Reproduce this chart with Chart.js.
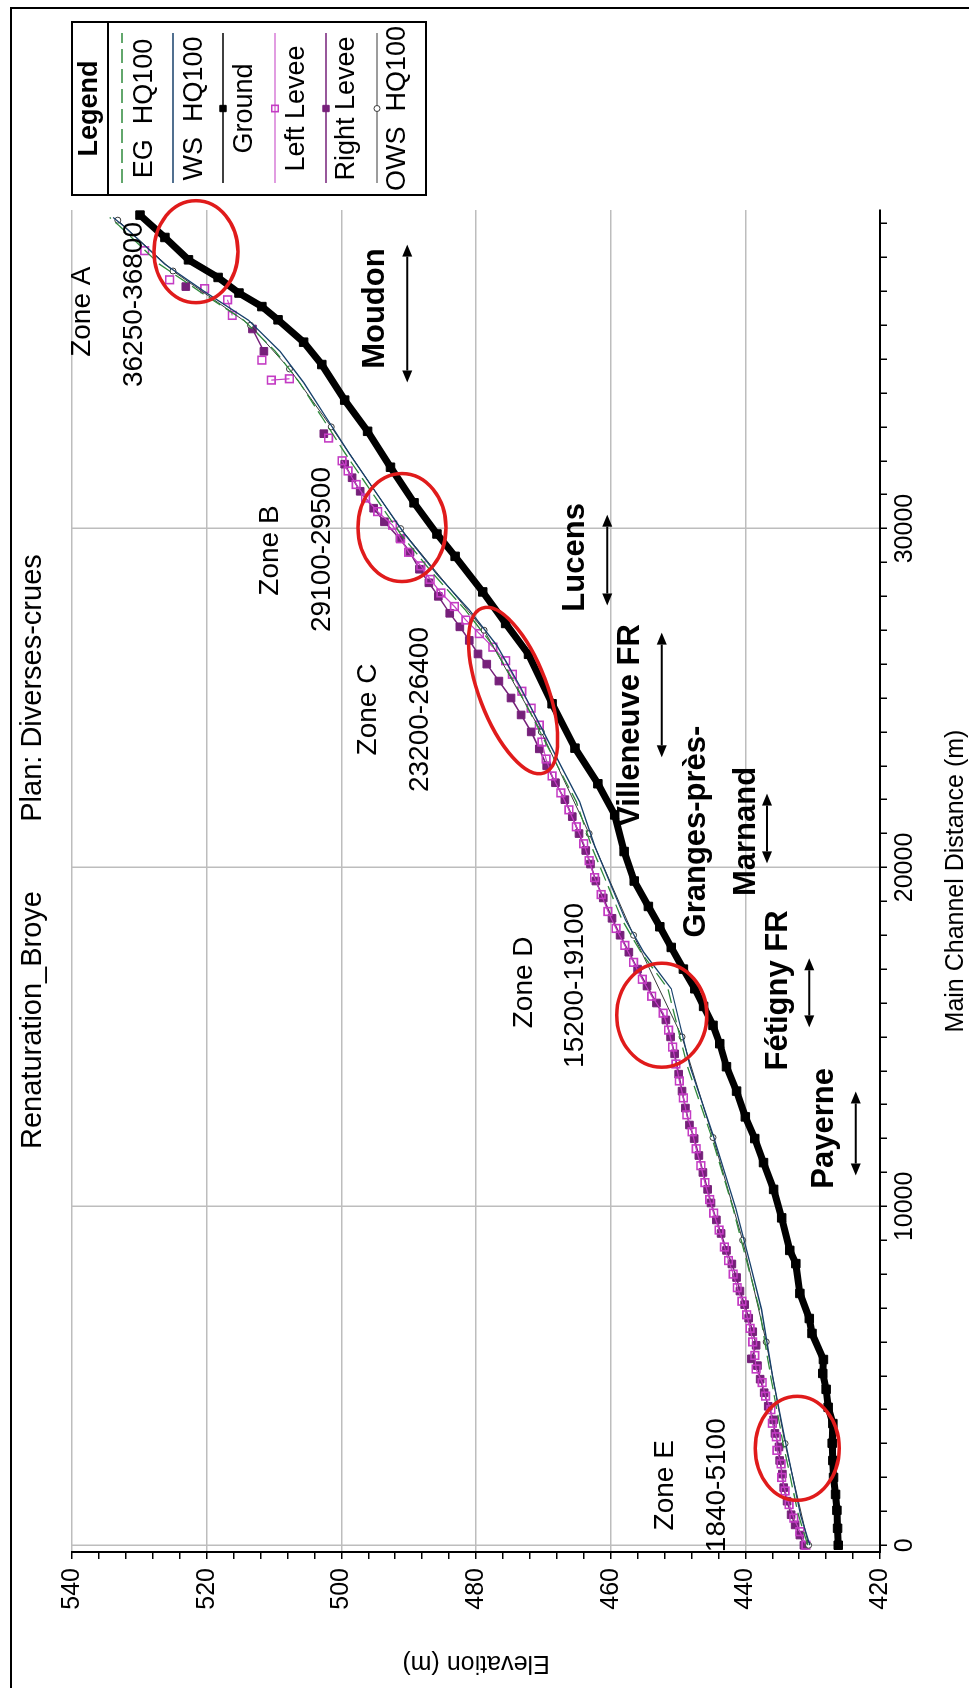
<!DOCTYPE html>
<html>
<head>
<meta charset="utf-8">
<title>Renaturation_Broye - profil en long</title>
<script src="https://cdn.jsdelivr.net/npm/chart.js@4.4.1/dist/chart.umd.min.js"></script>
<style>
  html, body { margin: 0; padding: 0; background: #fff; overflow: hidden; }
  /* the plot is built lying down (distance along x) and then turned a quarter turn, like the scan */
  #wrap {
    position: absolute; left: 0; top: 0; width: 1688px; height: 969px;
    transform-origin: 0 0; transform: translate(0, 1688px) rotate(-90deg);
  }
</style>
</head>
<body>
<div id="wrap"><canvas id="profileChart" width="1688" height="969"></canvas></div>
<script>
// ---- data (distance in m, elevation in m) ----
const titleLeft = 'Renaturation_Broye';
const titleRight = 'Plan: Diverses-crues';
const distLabels = [0, 10000, 20000, 30000];
const elevLabels = [420, 440, 460, 480, 500, 520, 540];

const groundDist = [0, 500, 1030, 1500, 2000, 2500, 3010, 3590, 4070, 4600,
  5070, 5480, 6250, 6690, 7430, 8310, 8700, 9660, 10500, 11290,
  12000, 12640, 13400, 14120, 14800, 15340, 15900, 16420, 17000, 17640,
  18250, 18850, 19600, 20470, 21550, 22470, 23520, 24830, 26290, 27200,
  28130, 29180, 29840, 30760, 31810, 32870, 33790, 34840, 35500, 36160,
  36550, 36950, 37410, 37930, 38590, 39250];
const groundElev = [426.2, 426.3, 426.4, 426.6, 426.9, 427.0, 427.1, 427.0, 427.7, 428.0,
  428.5, 428.4, 430.1, 430.5, 431.9, 432.5, 433.4, 434.6, 435.8, 437.3,
  438.6, 440.0, 441.3, 442.8, 443.8, 444.8, 446.2, 447.5, 449.2, 451.0,
  452.7, 454.4, 456.5, 458.0, 459.4, 461.9, 465.3, 468.7, 472.2, 475.6,
  479.0, 483.1, 485.8, 489.2, 492.7, 496.1, 499.5, 502.9, 505.6, 509.4,
  511.8, 515.2, 518.3, 522.7, 526.2, 529.9];

const wsDist = [0, 880, 2910, 4940, 6960, 8310, 9930, 12100, 14120, 16420,
  17500, 18450, 20600, 21940, 23000, 24050, 25360, 26550, 27600, 28650,
  29840, 31020, 32210, 33260, 34310, 35230, 36150, 36950, 37800, 38920, 39180];
const wsElev = [430.4, 431.8, 433.9, 435.9, 437.6, 439.3, 441.4, 444.8, 448.2, 451.0,
  455.1, 457.8, 462.3, 464.6, 467.4, 470.1, 473.5, 476.9, 481.0, 485.8,
  490.6, 494.7, 498.8, 502.2, 505.6, 509.1, 513.8, 520.0, 526.2, 532.3, 533.9];
const egElev = [430.7, 432.1, 434.3, 436.2, 437.9, 439.7, 441.8, 445.1, 448.6, 451.5,
  455.5, 458.3, 462.8, 465.1, 467.9, 470.6, 474.0, 477.5, 481.6, 486.3,
  491.2, 495.3, 499.4, 502.8, 506.2, 509.8, 514.5, 520.7, 527.0, 532.9, 534.4];

const owsDist = [0, 3000, 6000, 9000, 12030, 15000, 18000, 21000, 24000, 27000,
  30000, 33000, 34710, 36000, 37600, 39100];
const owsElev = [430.6, 434.1, 436.9, 440.4, 444.8, 449.4, 456.6, 463.2, 470.3, 478.8,
  491.2, 501.5, 507.7, 513.5, 525.0, 533.2];

const leftDist = [0, 400, 800, 1200, 1600, 2000, 2400, 2800, 3200, 3600,
  4000, 4400, 4800, 5200, 5600, 6000, 6400, 6800, 7200, 7600,
  8000, 8400, 8800, 9300, 9800, 10200, 10700, 11200, 11700, 12200,
  12700, 13200, 13700, 14200, 14700, 15200, 15700, 16200, 16700, 17200,
  17700, 18200, 18700, 19200, 19700, 20200, 20700, 21200, 21700, 22200,
  22700, 23200, 23700, 24200, 24700, 25200, 25700, 26100, 26500, 26900,
  27300, 27700, 28100, 28500, 28900, 29300, 29700, 30100, 30500, 30900,
  31300, 31700, 32000, 32300, 32670, 33000, 34380, 34420, 34700, 34970,
  35500, 36290, 36750, 36900, 37080, 37200, 37340, 37700, 38200];
const leftElev = [431.0, 431.9, 432.8, 433.5, 434.1, 434.6, 434.7, 435.3, 435.4, 436.0,
  436.2, 437.0, 437.5, 438.4, 438.6, 438.9, 439.3, 439.8, 440.5, 441.2,
  441.8, 442.5, 443.1, 443.9, 444.7, 445.3, 446.0, 446.6, 447.3, 447.9,
  448.7, 449.2, 449.8, 450.3, 450.8, 451.4, 452.2, 453.9, 455.3, 456.6,
  457.9, 459.2, 460.4, 461.4, 462.4, 463.2, 464.0, 465.1, 466.2, 467.4,
  468.7, 469.6, 470.2, 470.6, 471.8, 473.2, 474.6, 475.6, 477.5, 479.5,
  481.5, 483.2, 485.2, 486.8, 488.2, 490.0, 491.2, 492.4, 494.6, 496.4,
  497.8, 499.0, 499.9, null, 501.9, null, 510.4, 507.7, null, 511.8,
  null, 516.2, 516.9, null, 520.3, null, 525.5, null, 529.2];

const rightDist = [0, 300, 600, 900, 1300, 1700, 2100, 2500, 2900, 3300,
  3700, 4100, 4500, 4900, 5300, 5500, 5900, 6300, 6700, 7100,
  7500, 7900, 8300, 8700, 9200, 9600, 10100, 10500, 11000, 11500,
  12000, 12400, 12900, 13400, 13900, 14500, 15000, 15500, 16000, 16500,
  17000, 17500, 18000, 18500, 19100, 19600, 20100, 20500, 21000, 21500,
  22000, 22500, 23000, 23500, 24000, 24500, 25000, 25500, 26000, 26300,
  26700, 27100, 27500, 28000, 28400, 28800, 29300, 29700, 30200, 30600,
  31100, 31500, 31900, 32300, 32800, 33000, 35230, 35890, 36500, 37140];
const rightElev = [431.3, 431.9, 432.6, 433.2, 433.8, 434.3, 434.5, 434.9, 435.0, 435.6,
  435.8, 436.6, 437.2, 437.8, 438.2, 439.1, 438.4, 438.9, 439.5, 440.1,
  440.8, 441.3, 442.0, 442.8, 443.6, 444.3, 445.1, 445.6, 446.3, 446.9,
  447.6, 448.3, 448.9, 449.4, 449.9, 450.5, 451.1, 451.8, 453.2, 454.6,
  456.0, 457.3, 458.6, 459.8, 461.1, 462.2, 463.0, 463.7, 464.7, 465.7,
  466.8, 468.2, 469.5, 470.6, 471.8, 473.3, 474.8, 476.6, 478.4, 479.7,
  481.0, 482.4, 483.9, 485.6, 487.0, 488.4, 489.8, 491.3, 493.6, 495.2,
  497.2, 498.4, 499.5, null, 502.6, null, 511.5, 513.2, null, 523.1];

// ---- annotations written on the plot (positions in distance / elevation) ----
const zoneNotes = [
  { text: 'Zone A', d: 36400, e: 538.4 },
  { text: '36250-36800', d: 36610, e: 530.8 },
  { text: 'Zone B', d: 29350, e: 510.6 },
  { text: '29100-29500', d: 29380, e: 502.9 },
  { text: 'Zone C', d: 24660, e: 496.0 },
  { text: '23200-26400', d: 24660, e: 488.3 },
  { text: 'Zone D', d: 16610, e: 472.9 },
  { text: '15200-19100', d: 16520, e: 465.3 },
  { text: 'Zone E', d: 1770, e: 451.9 },
  { text: '1840-5100', d: 1770, e: 444.1 }
];
const placeNotes = [
  { lines: ['Moudon'], d: 36490, e: [494.9], arrow: { from: 34310, to: 38380, e: 490.2 } },
  { lines: ['Lucens'], d: 29150, e: [465.3], arrow: { from: 27730, to: 30410, e: 460.5 } },
  { lines: ['Villeneuve FR'], d: 24190, e: [457.1], arrow: { from: 23250, to: 26930, e: 452.4 } },
  { lines: ['Granges-près-', 'Marnand'], d: 21060, e: [447.3, 439.9], arrow: { from: 20120, to: 22180, e: 436.8 } },
  { lines: ['Fétigny FR'], d: 16370, e: [435.1], arrow: { from: 15280, to: 17320, e: 430.5 } },
  { lines: ['Payerne'], d: 12300, e: [428.3], arrow: { from: 10910, to: 13390, e: 423.6 } }
];
const problemRings = [
  { d: 38170, e: 521.6, rx: 51, ry: 42, rot: 0 },
  { d: 30030, e: 491.0, rx: 54, ry: 44, rot: 0 },
  { d: 25220, e: 474.5, rx: 88, ry: 34, rot: -0.363 },
  { d: 15640, e: 452.4, rx: 52, ry: 45, rot: 0 },
  { d: 2860, e: 432.3, rx: 52, ry: 42, rot: 0 }
];

const FONT = "'Liberation Sans', Arial, sans-serif";
Chart.defaults.font.family = FONT;
Chart.defaults.color = '#000';

const pts = (dist, elev) => dist.map((d, i) => ({ x: d, y: elev[i] }));

// tick marks: every 1000 m along the river, every 4 m in height
const distTicks = [];
for (let v = 0; v <= 39000; v += 1000) distTicks.push(v);
const elevTicks = [];
for (let v = 420; v <= 540; v += 4) elevTicks.push(v);

const pageDecor = {
  id: 'pageDecor',
  beforeDraw(chart) {
    const c = chart.ctx;
    c.save();
    c.fillStyle = '#fff';
    c.fillRect(0, 0, chart.width, chart.height);
    c.restore();
  },
  afterDraw(chart) {
    const c = chart.ctx;
    c.save();
    c.strokeStyle = '#000';
    c.lineWidth = 2;
    c.strokeRect(-10, 11, 1690, 1000);
    c.fillStyle = '#000';
    c.font = '29px ' + FONT;
    c.textAlign = 'center';
    c.textBaseline = 'middle';
    c.fillText(titleLeft, 668, 33);
    c.fillText(titleRight, 1000, 33);
    c.restore();
  }
};

function drawArrow(c, x1, x2, y) {
  const h = 12, w = 5;
  c.beginPath();
  c.moveTo(x1 + h, y);
  c.lineTo(x2 - h, y);
  c.stroke();
  c.beginPath();
  c.moveTo(x1, y); c.lineTo(x1 + h, y - w); c.lineTo(x1 + h, y + w); c.closePath();
  c.moveTo(x2, y); c.lineTo(x2 - h, y - w); c.lineTo(x2 - h, y + w); c.closePath();
  c.fill();
}

const notes = {
  id: 'notes',
  afterDatasetsDraw(chart) {
    const c = chart.ctx;
    const xs = chart.scales.x, ys = chart.scales.y;
    c.save();
    c.textAlign = 'center';
    c.textBaseline = 'middle';
    c.fillStyle = '#000';
    c.strokeStyle = '#000';

    c.font = '28px ' + FONT;
    zoneNotes.forEach(n => c.fillText(n.text, xs.getPixelForValue(n.d), ys.getPixelForValue(n.e)));

    c.font = 'bold 31px ' + FONT;
    c.lineWidth = 2;
    placeNotes.forEach(n => {
      n.lines.forEach((t, i) => c.fillText(t, xs.getPixelForValue(n.d), ys.getPixelForValue(n.e[i])));
      drawArrow(c, xs.getPixelForValue(n.arrow.from), xs.getPixelForValue(n.arrow.to), ys.getPixelForValue(n.arrow.e));
    });

    c.strokeStyle = '#e01b1b';
    c.lineWidth = 3.5;
    problemRings.forEach(r => {
      c.beginPath();
      c.ellipse(xs.getPixelForValue(r.d), ys.getPixelForValue(r.e), r.rx, r.ry, r.rot, 0, Math.PI * 2);
      c.stroke();
    });
    c.restore();
  }
};

// HEC-RAS style legend box in the upper right corner
const legendBox = {
  id: 'legendBox',
  afterDraw(chart) {
    const c = chart.ctx;
    const left = 1493, right = 1666, top = 72, bottom = 426, header = 108;
    const lineY = [122, 173, 223, 275, 326, 377];
    const textY = [145, 195, 245, 297, 347, 398];
    const mid = (left + right) / 2;
    c.save();
    c.fillStyle = '#fff';
    c.fillRect(left, top, right - left, bottom - top);
    c.strokeStyle = '#000';
    c.lineWidth = 2;
    c.strokeRect(left, top, right - left, bottom - top);
    c.beginPath();
    c.moveTo(left, header); c.lineTo(right, header);
    c.stroke();
    c.fillStyle = '#000';
    c.textAlign = 'center';
    c.textBaseline = 'middle';
    c.font = 'bold 27px ' + FONT;
    c.fillText('Legend', mid, (top + header) / 2);
    c.font = '27px ' + FONT;
    chart.data.datasets.forEach((ds, i) => {
      c.save();
      c.strokeStyle = ds.borderColor;
      c.lineWidth = Math.min(ds.borderWidth, 1.5);
      c.setLineDash(ds.borderDash || []);
      c.beginPath();
      c.moveTo(left + 12, lineY[i]); c.lineTo(right - 11, lineY[i]);
      c.stroke();
      c.setLineDash([]);
      if (ds.pointRadius > 0) {
        c.fillStyle = ds.pointBackgroundColor;
        c.strokeStyle = ds.pointBorderColor;
        c.lineWidth = ds.pointBorderWidth || 1;
        Chart.helpers.drawPoint(c, { pointStyle: ds.pointStyle, radius: Math.min(ds.pointRadius, 4.5), rotation: 0, borderWidth: c.lineWidth }, mid, lineY[i]);
      }
      c.restore();
      c.fillText(ds.label, mid, textY[i]);
    });
    c.restore();
  }
};

const ctx = document.getElementById('profileChart').getContext('2d');
new Chart(ctx, {
  type: 'scatter',
  data: {
    datasets: [
      {
        label: 'EG  HQ100', data: pts(wsDist, egElev), showLine: true, order: 1,
        borderColor: '#2f8a3c', borderWidth: 1.3, borderDash: [14, 6], pointRadius: 0
      },
      {
        label: 'WS  HQ100', data: pts(wsDist, wsElev), showLine: true, order: 2,
        borderColor: '#17406b', borderWidth: 1.3, pointRadius: 0
      },
      {
        label: 'Ground', data: pts(groundDist, groundElev), showLine: true, order: 4,
        borderColor: '#000', borderWidth: 7, borderJoinStyle: 'miter', pointStyle: 'rect', pointRadius: 6,
        pointBackgroundColor: '#000', pointBorderColor: '#000', pointBorderWidth: 1
      },
      {
        label: 'Left Levee', data: pts(leftDist, leftElev), showLine: true, order: 5,
        borderColor: '#c43cc4', borderWidth: 1.2, pointStyle: 'rect', pointRadius: 5.4,
        pointBackgroundColor: 'rgba(255,255,255,0)', pointBorderColor: '#c43cc4', pointBorderWidth: 1.6
      },
      {
        label: 'Right Levee', data: pts(rightDist, rightElev), showLine: true, order: 6,
        borderColor: '#76207a', borderWidth: 1.5, pointStyle: 'rect', pointRadius: 5.4,
        pointBackgroundColor: '#76207a', pointBorderColor: '#76207a', pointBorderWidth: 1
      },
      {
        label: 'OWS  HQ100', data: pts(owsDist, owsElev), showLine: true, order: 3,
        borderColor: '#3a3a3a', borderWidth: 1, pointStyle: 'circle', pointRadius: 3,
        pointBackgroundColor: '#fff', pointBorderColor: '#3a3a3a', pointBorderWidth: 1
      }
    ]
  },
  options: {
    responsive: false,
    animation: false,
    layout: { padding: { top: 72, right: 210, left: 0, bottom: 0 } },
    elements: { line: { tension: 0 } },
    plugins: {
      legend: { display: false },
      tooltip: { enabled: false },
      title: { display: false }
    },
    scales: {
      x: {
        type: 'linear',
        position: 'bottom',
        min: -200,
        max: 39400,
        afterBuildTicks: s => { s.ticks = distTicks.map(v => ({ value: v })); },
        afterFit: s => { s.height = 89; },
        ticks: {
          autoSkip: false,
          maxRotation: 0,
          padding: 3,
          font: { size: 25 },
          callback: v => distLabels.includes(v) ? String(v) : ''
        },
        grid: {
          color: c => (c.tick && distLabels.includes(c.tick.value)) ? '#bdbdbd' : 'rgba(0,0,0,0)',
          lineWidth: 1.5,
          tickColor: '#000',
          tickLength: 7
        },
        border: { color: '#000', width: 2 },
        title: {
          display: true,
          text: 'Main Channel Distance (m)',
          font: { size: 25, lineHeight: 1 },
          padding: { top: 0, bottom: 0 }
        }
      },
      y: {
        type: 'linear',
        position: 'left',
        min: 420,
        max: 540,
        afterBuildTicks: s => { s.ticks = elevTicks.map(v => ({ value: v })); },
        afterFit: s => { s.width = 136; },
        ticks: {
          autoSkip: false,
          padding: 9,
          font: { size: 25 },
          callback: v => elevLabels.includes(v) ? String(v) : ''
        },
        grid: {
          color: c => (c.tick && elevLabels.includes(c.tick.value)) ? '#bdbdbd' : 'rgba(0,0,0,0)',
          lineWidth: 1.5,
          tickColor: '#000',
          tickLength: 7
        },
        border: { color: '#000', width: 2 },
        title: {
          display: true,
          text: 'Elevation (m)',
          font: { size: 25 },
          padding: { top: 10, bottom: 0 }
        }
      }
    }
  },
  plugins: [pageDecor, notes, legendBox]
});
</script>
</body>
</html>
